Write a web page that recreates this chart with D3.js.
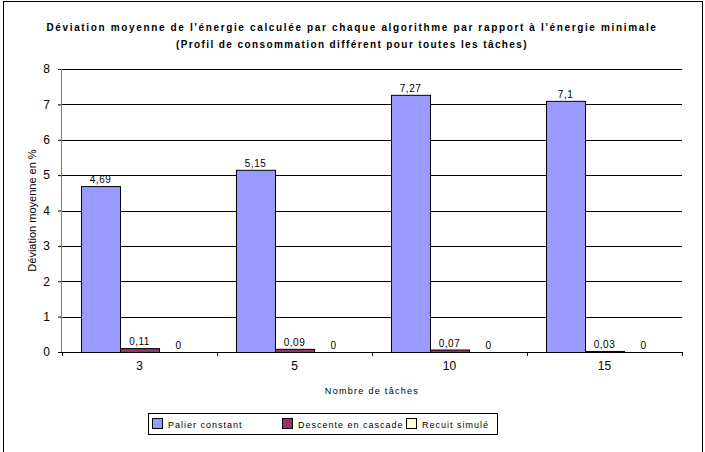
<!DOCTYPE html>
<html>
<head>
<meta charset="utf-8">
<script src="https://cdn.jsdelivr.net/npm/d3@7"></script>
<style>
  body { margin: 0; background: #fff; }
  text { font-family: "Liberation Sans", Arial, sans-serif; fill: #000; }
</style>
</head>
<body>
<svg id="chart" width="705" height="452"></svg>
<script>
// data
const categories = ["3", "5", "10", "15"];
const seriesNames = ["Palier constant", "Descente en cascade", "Recuit simulé"];
const palier = [4.69, 5.15, 7.27, 7.1];
const cascade = [0.11, 0.09, 0.07, 0.03];
const recuit = [0, 0, 0, 0];
const yTicks = [0, 1, 2, 3, 4, 5, 6, 7, 8];

const colors = ["#9999ff", "#993366", "#ffffcc"];
const series = [palier, cascade, recuit];

const svg = d3.select("#chart");
const margin = {left: 62, right: 23, top: 69, bottom: 100};
const width = 705 - margin.left - margin.right;
const height = 452 - margin.top - margin.bottom;

// outer frame
svg.append("rect")
  .attr("x", 3.5).attr("y", 1.5)
  .attr("width", 699).attr("height", 460)
  .attr("fill", "none").attr("stroke", "#000").attr("stroke-width", 1);

// title
const title = svg.append("text")
  .attr("x", 352).attr("y", 31)
  .attr("text-anchor", "middle")
  .style("font-size", "10px").style("font-weight", "bold");
title.append("tspan").attr("x", 352).style("letter-spacing", "1.65px")
  .text("Déviation moyenne de l'énergie calculée par chaque algorithme par rapport à l'énergie minimale");
title.append("tspan").attr("x", 352).attr("dy", 17).style("letter-spacing", "1.4px")
  .text("(Profil de consommation différent pour toutes les tâches)");

const g = svg.append("g").attr("transform", `translate(${margin.left},${margin.top})`);

const x = d3.scaleBand().domain(categories).range([0, width]).paddingInner(0).paddingOuter(0);
const x1 = d3.scaleBand().domain(d3.range(series.length)).range([0, x.bandwidth()]).paddingOuter(0.49).paddingInner(0);
const y = d3.scaleLinear().domain([0, 8]).range([height, 0]);

// gridlines
g.append("g").selectAll("line")
  .data(yTicks.slice(1))
  .join("line")
  .attr("x1", 0).attr("x2", width)
  .attr("y1", d => Math.round(y(d)) + 0.5).attr("y2", d => Math.round(y(d)) + 0.5)
  .attr("stroke", "#000").attr("stroke-width", 1);

// y axis
const yAxis = g.append("g")
  .call(d3.axisLeft(y).tickValues(yTicks).tickSize(4).tickPadding(8));
yAxis.selectAll(".tick line").attr("stroke", "#000");
yAxis.selectAll(".tick text").style("font-size", "12px").attr("fill", "#000");
yAxis.select(".domain").remove();
g.append("line")
  .attr("x1", -0.5).attr("x2", -0.5).attr("y1", 0).attr("y2", height)
  .attr("stroke", "#808080");

// bars
const groups = g.append("g").selectAll("g")
  .data(categories)
  .join("g")
  .attr("transform", d => `translate(${x(d)},0)`);

groups.selectAll("rect")
  .data((c, i) => series.map((s, k) => ({k, v: s[i]})))
  .join("rect")
  .attr("x", d => Math.round(x1(d.k)) + 0.5)
  .attr("width", Math.round(x1.bandwidth()))
  .attr("y", d => y(d.v) + 0.5)
  .attr("height", d => Math.max(0, height - y(d.v)))
  .attr("fill", d => colors[d.k])
  .attr("stroke", "#000")
  .attr("stroke-width", 1)
  .attr("display", d => d.v === 0 ? "none" : null);

groups.selectAll("text.val")
  .data((c, i) => series.map((s, k) => ({k, v: s[i]})))
  .join("text")
  .attr("class", "val")
  .attr("x", d => x1(d.k) + x1.bandwidth() / 2)
  .attr("y", d => y(d.v) - 3)
  .attr("text-anchor", "middle")
  .style("font-size", "10px")
  .style("letter-spacing", "0.5px")
  .text(d => String(d.v).replace(".", ","));

// x axis
const xAxis = g.append("g")
  .attr("transform", `translate(0,${height})`)
  .call(d3.axisBottom(x).tickSize(0).tickPadding(9));
xAxis.select(".domain").attr("stroke", "#000");
xAxis.selectAll(".tick text").style("font-size", "12px").attr("fill", "#000");
g.append("g").selectAll("line")
  .data(d3.range(categories.length + 1))
  .join("line")
  .attr("x1", d => Math.round(d * x.bandwidth()) + 0.5)
  .attr("x2", d => Math.round(d * x.bandwidth()) + 0.5)
  .attr("y1", height).attr("y2", height + 4)
  .attr("stroke", "#000");

// axis titles
svg.append("text")
  .attr("x", margin.left + width / 2).attr("y", 394)
  .attr("text-anchor", "middle")
  .style("font-size", "9px").style("letter-spacing", "1.3px")
  .text("Nombre de tâches");

svg.append("text")
  .attr("transform", `translate(36,${margin.top + height / 2}) rotate(-90)`)
  .attr("text-anchor", "middle")
  .style("font-size", "11px")
  .text("Déviation moyenne en %");

// legend
const legend = svg.append("g").attr("transform", "translate(148,413)");
legend.append("rect")
  .attr("x", 0.5).attr("y", 0.5).attr("width", 349).attr("height", 21)
  .attr("fill", "#fff").attr("stroke", "#000");
const legendX = [4, 134, 258];
const items = legend.selectAll("g.item")
  .data(seriesNames)
  .join("g")
  .attr("class", "item")
  .attr("transform", (d, i) => `translate(${legendX[i]},5)`);
items.append("rect")
  .attr("x", 0.5).attr("y", 0.5).attr("width", 10).attr("height", 10)
  .attr("fill", (d, i) => colors[i]).attr("stroke", "#000");
items.append("text")
  .attr("x", 16).attr("y", 9.5)
  .style("font-size", "9px").style("letter-spacing", "1px")
  .text(d => d);
</script>
</body>
</html>
